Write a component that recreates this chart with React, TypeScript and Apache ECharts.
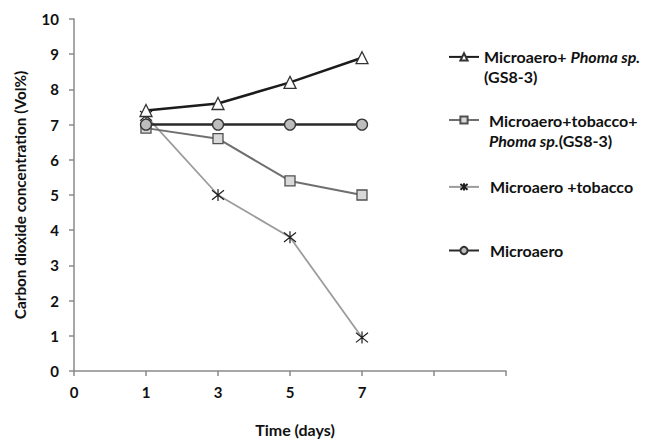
import React, { useEffect, useRef } from "react";
import * as echarts from "echarts";

const xCategories = ["0", "1", "3", "5", "7", "", ""];
const days = ["1", "3", "5", "7"];
const yTicks = { min: 0, max: 10, interval: 1 };

const nameTriangle = "Microaero+ Phoma sp. (GS8-3)";
const nameSquare = "Microaero+tobacco+ Phoma sp.(GS8-3)";
const nameStar = "Microaero +tobacco";
const nameCircle = "Microaero";

const valuesTriangle = [7.4, 7.6, 8.2, 8.9];
const valuesSquare = [6.9, 6.6, 5.4, 5.0];
const valuesStar = [7.25, 5.0, 3.8, 0.95];
const valuesCircle = [7.0, 7.0, 7.0, 7.0];

const FONT = "Lato, 'Open Sans', sans-serif";
const ASTERISK = "path://M5,0 L5,10 M1.2,1 L8.8,9 M1.2,9 L8.8,1";

const pairs = (vals: number[]) => days.map((d, i) => [d, vals[i]]);

export default function App() {
  const ref = useRef<HTMLDivElement>(null);
  useEffect(() => {
    if (!ref.current) return;
    const chart = echarts.init(ref.current, undefined, { renderer: "svg" });
    const rich = {
      b: { fontFamily: FONT, fontWeight: 700, fontSize: 16, color: "#111111", lineHeight: 20 },
      i: { fontFamily: FONT, fontWeight: 700, fontStyle: "italic", fontSize: 16, color: "#111111", lineHeight: 20 },
    };
    const legendBase = {
      orient: "vertical",
      left: 448,
      padding: 0,
      itemWidth: 30,
      itemHeight: 9,
      selectedMode: false,
    };
    const option: any = {
      animation: false,
      backgroundColor: "#ffffff",
      grid: { left: 74, right: 144, top: 19, bottom: 65.5, containLabel: false },
      xAxis: {
        type: "category",
        data: xCategories,
        boundaryGap: false,
        axisLine: { lineStyle: { color: "#8a8a8a", width: 1.5 } },
        axisTick: { show: true, length: 5, inside: false, lineStyle: { color: "#8a8a8a", width: 1.5 } },
        axisLabel: { margin: 13, fontFamily: FONT, fontWeight: 700, fontSize: 15, color: "#111111" },
        splitLine: { show: false },
        name: "Time (days)",
        nameLocation: "middle",
        nameGap: 50,
        nameTextStyle: { fontFamily: FONT, fontWeight: 700, fontSize: 16, color: "#111111", padding: [0, 0, 0, 10] },
      },
      yAxis: {
        type: "value",
        min: yTicks.min,
        max: yTicks.max,
        interval: yTicks.interval,
        axisLine: { show: true, lineStyle: { color: "#8a8a8a", width: 1.5 } },
        axisTick: { show: true, length: 5, lineStyle: { color: "#8a8a8a", width: 1.5 } },
        axisLabel: { margin: 15, fontFamily: FONT, fontWeight: 700, fontSize: 15, color: "#111111" },
        splitLine: { show: false },
        name: "Carbon dioxide concentration (Vol%)",
        nameLocation: "middle",
        nameGap: 47,
        nameTextStyle: { fontFamily: FONT, fontWeight: 700, fontSize: 15.3, color: "#111111" },
      },
      legend: [
        {
          ...legendBase,
          top: 48.9,
          data: [nameTriangle],
          formatter: () => "{b|Microaero+ }{i|Phoma sp.}\n{b|(GS8-3)}",
          textStyle: { rich, padding: [20, 0, 0, 0] },
        },
        {
          ...legendBase,
          top: 112,
          data: [nameSquare],
          formatter: () => "{b|Microaero+tobacco+}\n{i|Phoma sp.}{b|(GS8-3)}",
          textStyle: { rich, padding: [20, 0, 0, 5] },
        },
        {
          ...legendBase,
          top: 178.9,
          data: [nameStar],
          formatter: () => "{b|Microaero +tobacco}",
          textStyle: { rich, padding: [0, 0, 0, 6] },
        },
        {
          ...legendBase,
          top: 242.5,
          data: [nameCircle],
          formatter: () => "{b|Microaero}",
          textStyle: { rich, padding: [0, 0, 0, 6] },
        },
      ],
      series: [
        {
          name: nameStar,
          type: "line",
          data: pairs(valuesStar),
          symbol: ASTERISK,
          symbolSize: 12,
          lineStyle: { color: "#9c9c9c", width: 1.8 },
          itemStyle: { color: "none", borderColor: "#1e1e1e", borderWidth: 1.2 },
          z: 2,
        },
        {
          name: nameSquare,
          type: "line",
          data: pairs(valuesSquare),
          symbol: "rect",
          symbolSize: 10,
          lineStyle: { color: "#6f6f6f", width: 2 },
          itemStyle: { color: "#d9d9d9", borderColor: "#505050", borderWidth: 1.3 },
          z: 3,
        },
        {
          name: nameCircle,
          type: "line",
          data: pairs(valuesCircle),
          symbol: "circle",
          symbolSize: 11,
          lineStyle: { color: "#2a2a2a", width: 2.5 },
          itemStyle: { color: "#bdbdbd", borderColor: "#333333", borderWidth: 1.3 },
          z: 4,
        },
        {
          name: nameTriangle,
          type: "line",
          data: pairs(valuesTriangle),
          symbol: "triangle",
          symbolSize: 12,
          lineStyle: { color: "#1c1c1c", width: 2.5 },
          itemStyle: { color: "#ffffff", borderColor: "#333333", borderWidth: 1.3 },
          z: 5,
        },
      ],
    };
    chart.setOption(option);
    return () => chart.dispose();
  }, []);
  return <div ref={ref} style={{ width: 650, height: 442, position: "absolute", left: 0, top: 0 }} />;
}
